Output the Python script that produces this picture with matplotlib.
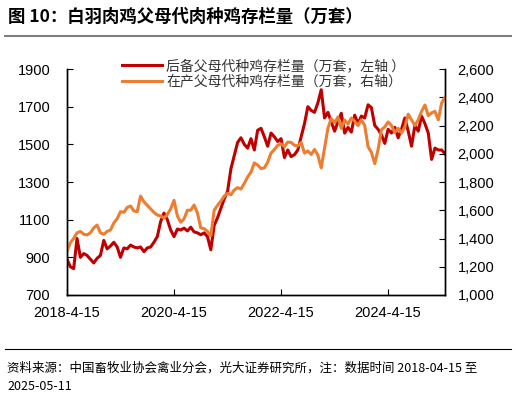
import matplotlib
matplotlib.use('Agg')
import matplotlib.pyplot as plt
import pandas as pd
from matplotlib.lines import Line2D

plt.rcParams['font.family'] = ['Liberation Sans', 'Noto Sans CJK SC']
plt.rcParams['axes.unicode_minus'] = False

START, END = '2018-04-15', '2025-05-11'

# 后备父母代种鸡存栏量 (万套, left axis)
reserve = [890, 850, 840, 1000, 900, 920, 910, 890, 870, 895,
           910, 990, 945, 960, 980, 955, 900, 950, 945, 965,
           955, 950, 955, 930, 950, 955, 980, 1010, 1090, 1135,
           1100, 1045, 1010, 1050, 1045, 1055, 1040, 1060, 1035, 1030,
           1020, 1030, 1010, 940, 1070, 1110, 1160, 1210, 1250, 1370,
           1440, 1510, 1535, 1500, 1480, 1530, 1470, 1575, 1585, 1540,
           1490, 1560, 1540, 1515, 1530, 1430, 1470, 1435, 1445, 1470,
           1540, 1610, 1700, 1680, 1670, 1720, 1790, 1640, 1670, 1620,
           1570, 1620, 1665, 1560, 1590, 1565, 1655, 1610, 1650, 1640,
           1710, 1695, 1600, 1580, 1550, 1505, 1580, 1560, 1590, 1535,
           1580, 1640, 1570, 1490, 1600, 1570, 1650, 1610, 1560, 1420,
           1480, 1470, 1470, 1450]

# 在产父母代种鸡存栏量 (万套, right axis)
laying = [1310, 1370, 1400, 1440, 1450, 1430, 1425, 1440, 1475, 1495,
          1440, 1430, 1450, 1460, 1510, 1540, 1590, 1585, 1620, 1630,
          1595, 1590, 1700, 1660, 1635, 1610, 1585, 1566, 1560, 1545,
          1570, 1610, 1670, 1560, 1515, 1540, 1600, 1600, 1637, 1580,
          1475, 1470, 1450, 1420, 1600, 1635, 1665, 1700, 1720, 1710,
          1743, 1760, 1750, 1790, 1835, 1870, 1935, 1920, 1895, 1900,
          1940, 2005, 2030, 2060, 2070, 2050, 2083, 2080, 2060, 2055,
          2080, 2005, 2020, 1995, 2030, 1990, 1900, 2040, 2180, 2250,
          2220, 2260, 2180, 2239, 2210, 2253, 2230, 2200, 2240, 2200,
          2050, 2010, 1930, 2030, 2170, 2190, 2225, 2200, 2150, 2180,
          2147, 2190, 2280, 2240, 2200, 2240, 2300, 2345, 2270, 2290,
          2300, 2240, 2360, 2400]

dates = pd.date_range(START, END, periods=len(reserve))
xtick_dates = ['2018-04-15', '2020-04-15', '2022-04-15', '2024-04-15']
xtick_labels = ['2018-4-15', '2020-4-15', '2022-4-15', '2024-4-15']
left_ticks = [700, 900, 1100, 1300, 1500, 1700, 1900]
right_ticks = [1000, 1200, 1400, 1600, 1800, 2000, 2200, 2400, 2600]

RED = '#C00000'
ORANGE = '#ED7D31'
CJK = ['Noto Sans CJK SC', 'DejaVu Sans']

fig = plt.figure(figsize=(5.16, 3.98), dpi=100)
fig.patch.set_facecolor('white')
ax = fig.add_axes([0.1298, 0.2588, 0.7326, 0.5678])
ax2 = ax.twinx()

l1, = ax.plot(dates, reserve, color=RED, lw=2.2, label='后备父母代种鸡存栏量（万套，左轴 ）')
l2, = ax2.plot(dates, laying, color=ORANGE, lw=2.2, label='在产父母代种鸡存栏量（万套，右轴）')

ax.set_xlim(pd.Timestamp(START), pd.Timestamp(END))
ax.set_ylim(700, 1900)
ax2.set_ylim(1000, 2600)
ax.set_yticks(left_ticks)
ax2.set_yticks(right_ticks)
ax2.set_yticklabels([f'{v:,}' for v in right_ticks])
ax.set_xticks(pd.to_datetime(xtick_dates))
ax.set_xticklabels(xtick_labels)

for a in (ax, ax2):
    a.spines['top'].set_visible(False)
    for s in ('left', 'right', 'bottom'):
        a.spines[s].set_linewidth(1.0)
        a.spines[s].set_color('black')
ax.tick_params(axis='y', direction='in', length=4, pad=12, labelsize=10.5)
ax.tick_params(axis='x', direction='in', length=4, pad=8, labelsize=10.5)
ax2.tick_params(axis='y', direction='in', length=4, pad=9, labelsize=10.5)

fig.legend(handles=[l1, l2], loc='upper left', bbox_to_anchor=(0.225, 0.865),
           frameon=False, prop={'family': CJK, 'size': 10}, labelcolor='#333333',
           handlelength=2.9, handletextpad=0.3, labelspacing=0.1, borderaxespad=0)

fig.text(0.016, 1 - 17 / 398, '图 10：白羽肉鸡父母代肉种鸡存栏量（万套）', family=CJK,
         fontsize=12.5, fontweight='bold', va='center', ha='left')
fig.add_artist(Line2D([0.01, 0.99], [1 - 36 / 398] * 2, color='#7f7f7f', lw=1.5,
                      transform=fig.transFigure))
fig.add_artist(Line2D([0.01, 0.99], [1 - 349 / 398] * 2, color='black', lw=0.8,
                      transform=fig.transFigure))
fig.text(0.014, 1 - 368 / 398, '资料来源：中国畜牧业协会禽业分会，光大证券研究所，注：数据时间 2018-04-15 至',
         family=CJK, fontsize=9, va='center', ha='left')
fig.text(0.014, 1 - 386 / 398, '2025-05-11', family=CJK, fontsize=9, va='center', ha='left')

fig.savefig('out.png', dpi=100, facecolor='white')
